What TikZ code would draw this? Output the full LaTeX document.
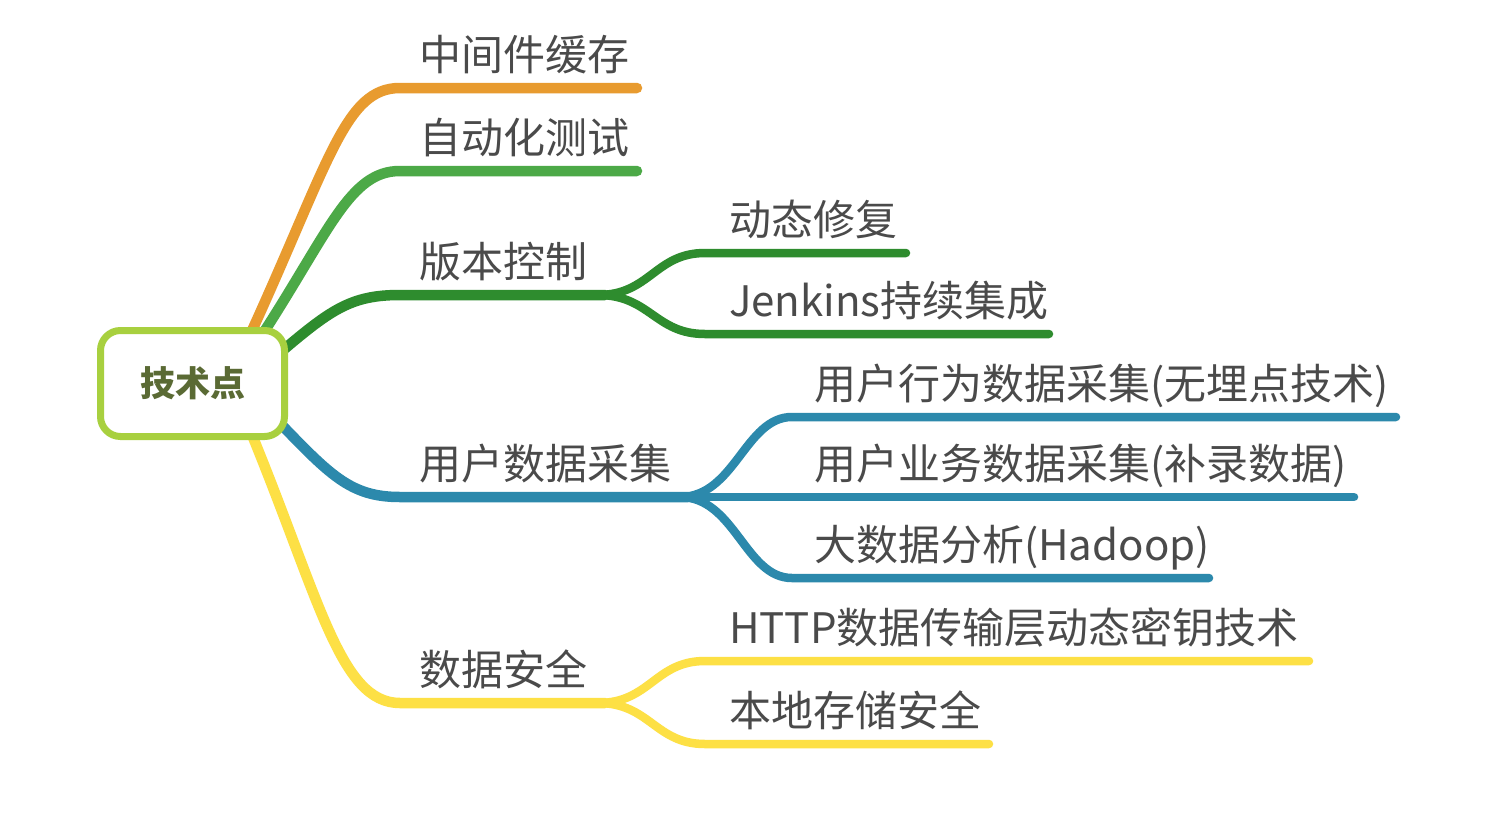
\documentclass[tikz,border=0pt]{standalone}
\usepackage{fontspec}
\setmainfont{Noto Sans CJK SC}
\definecolor{orangec}{HTML}{E89B2F}
\definecolor{lgreenc}{HTML}{4CA947}
\definecolor{dgreenc}{HTML}{2E8C2E}
\definecolor{tealc}{HTML}{2C89AC}
\definecolor{yellowc}{HTML}{FDE045}
\definecolor{rootc}{HTML}{A8D03F}
\definecolor{roottxt}{HTML}{5A6A34}
\definecolor{txtgray}{HTML}{4A4A4A}
\begin{document}
\begin{tikzpicture}[x=1pt,y=-1pt,
  lbl/.style={anchor=base west, inner sep=0pt, text=txtgray, font=\fontsize{42}{48}\selectfont},
  mainline/.style={line width=10.5pt, line cap=round},
  subline/.style={line width=8.5pt, line cap=round}]
\useasboundingbox[fill=white] (0,0) rectangle (1502,820);

% start points (inside root box)
\coordinate (s1) at (250,335);
\coordinate (s2) at (262,335);
\coordinate (s3) at (275,357);
\coordinate (s4) at (275,418);
\coordinate (s5) at (250,430);

% main branch corners and ends
\coordinate (a1) at (400,88);   \coordinate (a2) at (637,88);
\coordinate (b1) at (400,171);  \coordinate (b2) at (637,171);
\coordinate (c1) at (400,295);  \coordinate (cj) at (605,295);
\coordinate (d1) at (400,497);  \coordinate (dj) at (688,497);
\coordinate (e1) at (400,703);  \coordinate (ej) at (605,703);

% child corners and ends
\coordinate (c1a) at (705,253); \coordinate (c1b) at (906,253);
\coordinate (c2a) at (705,334); \coordinate (c2b) at (1049,334);
\coordinate (d1a) at (792,417); \coordinate (d1b) at (1396,417);
\coordinate (d2b) at (1354,497);
\coordinate (d3a) at (792,578); \coordinate (d3b) at (1209,578);
\coordinate (e1a) at (705,661); \coordinate (e1b) at (1309,661);
\coordinate (e2a) at (705,744); \coordinate (e2b) at (989,744);

% main branches
\draw[mainline, orangec] (s1) .. controls (330,160) and (345,88) .. (a1) -- (a2);
\draw[mainline, lgreenc] (s2) .. controls (330,230) and (350,171) .. (b1) -- (b2);
\draw[mainline, dgreenc] (s3) .. controls (330,310) and (350,295) .. (c1) -- (cj);
\draw[mainline, tealc] (s4) .. controls (330,475) and (350,497) .. (d1) -- (dj);
\draw[mainline, yellowc] (s5) .. controls (320,600) and (340,703) .. (e1) -- (ej);

% children of 版本控制
\draw[subline, dgreenc] (598,295) .. controls (650,295) and (655,253) .. (c1a) -- (c1b);
\draw[subline, dgreenc] (598,295) .. controls (650,295) and (655,334) .. (c2a) -- (c2b);
% children of 用户数据采集
\draw[subline, tealc] (680,497) .. controls (735,497) and (745,417) .. (d1a) -- (d1b);
\draw[subline, tealc] (680,497) -- (d2b);
\draw[subline, tealc] (680,497) .. controls (735,497) and (745,578) .. (d3a) -- (d3b);
% children of 数据安全
\draw[subline, yellowc] (598,703) .. controls (650,703) and (655,661) .. (e1a) -- (e1b);
\draw[subline, yellowc] (598,703) .. controls (650,703) and (655,744) .. (e2a) -- (e2b);

% root
\node[draw=rootc, line width=7pt, rounded corners=20pt, fill=white,
      minimum width=184pt, minimum height=106pt, inner sep=0pt,
      text=roottxt, font=\fontsize{35}{40}\selectfont\bfseries] (root) at (192.5,383.5) {技术点};

% labels
\node[lbl] (n1) at (419,70) {中间件缓存};
\node[lbl] (n2) at (419,153) {自动化测试};
\node[lbl] (n3) at (419,277) {版本控制};
\node[lbl] (n31) at (729,235) {动态修复};
\node[lbl] (n32) at (729,316) {Jenkins持续集成};
\node[lbl] (n4) at (419,479) {用户数据采集};
\node[lbl] (n41) at (814,399) {用户行为数据采集(无埋点技术)};
\node[lbl] (n42) at (814,479) {用户业务数据采集(补录数据)};
\node[lbl] (n43) at (814,560) {大数据分析(Hadoop)};
\node[lbl] (n5) at (419,685) {数据安全};
\node[lbl] (n51) at (729,643) {HTTP数据传输层动态密钥技术};
\node[lbl] (n52) at (729,726) {本地存储安全};
\end{tikzpicture}
\end{document}
